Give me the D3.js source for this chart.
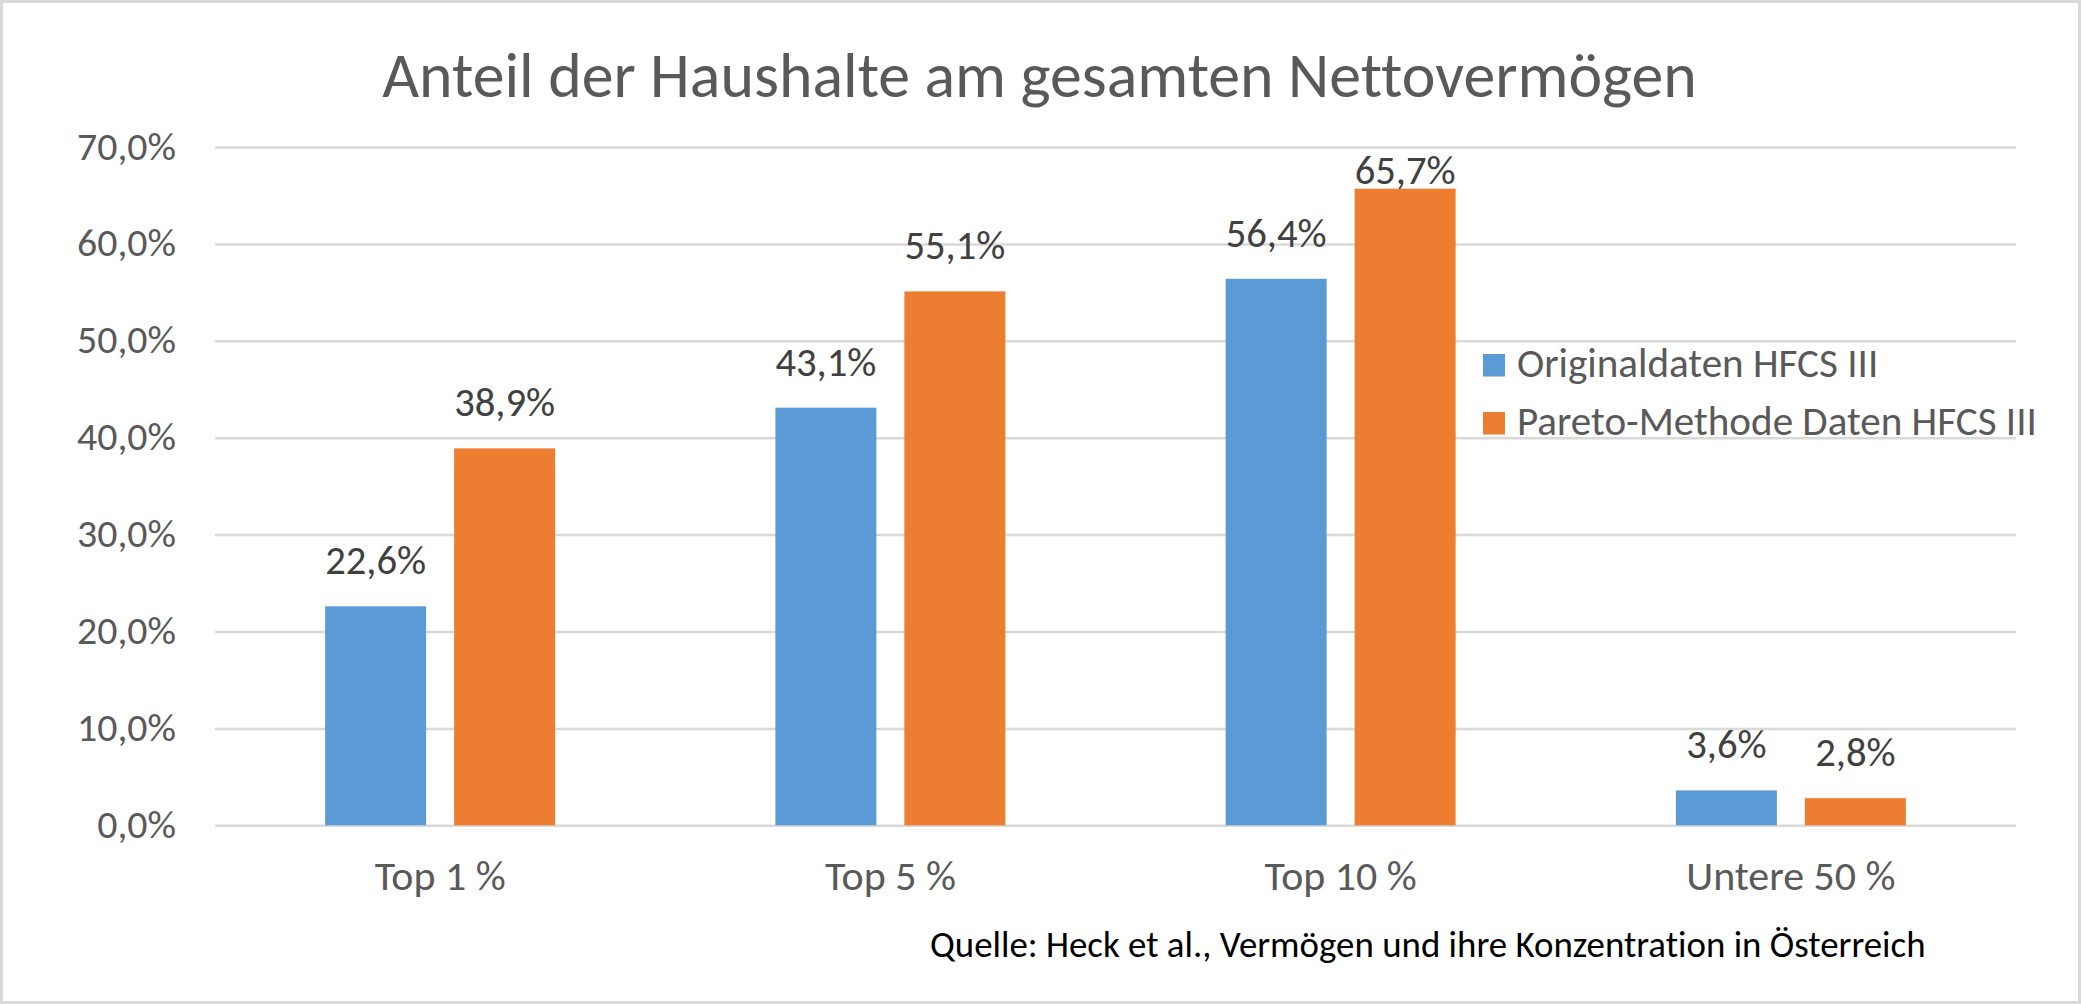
<!DOCTYPE html>
<html><head><meta charset="utf-8">
<script src="https://cdn.jsdelivr.net/npm/d3@7"></script>
<style>
html,body{margin:0;padding:0;background:#fff;}
svg{display:block;}
text{font-variant-ligatures:none;font-feature-settings:"liga" 0, "clig" 0;}
</style></head>
<body>
<svg id="chart" width="2081" height="1004"></svg>
<script>
const titleText = "Anteil der Haushalte am gesamten Nettovermögen";
const sourceText = "Quelle: Heck et al., Vermögen und ihre Konzentration in Österreich";
const categories = ["Top 1 %", "Top 5 %", "Top 10 %", "Untere 50 %"];
const seriesNames = ["Originaldaten HFCS III", "Pareto-Methode Daten HFCS III"];
const originalValues = [22.6, 43.1, 56.4, 3.6];
const paretoValues = [38.9, 55.1, 65.7, 2.8];
const seriesColors = ["#5b9bd5", "#ed7d31"];
const yTicks = [0, 10, 20, 30, 40, 50, 60, 70];

const fmt = v => v.toFixed(1).replace(".", ",") + "%";
const FONT = "Carlito, Lato, 'Open Sans', sans-serif";

const svg = d3.select("#chart");
const W = 2081, H = 1004;

// border
svg.append("rect").attr("x", 1.5).attr("y", 1.5).attr("width", W - 3).attr("height", H - 3)
  .attr("fill", "#fff").attr("stroke", "#d9d9d9").attr("stroke-width", 3);

const plot = {left: 215, right: 2016, top: 147, bottom: 825.3};

const y = d3.scaleLinear().domain([0, 70]).range([plot.bottom, plot.top]);
const x0 = d3.scaleBand().domain(categories).range([plot.left, plot.right]).paddingInner(0).paddingOuter(0);
const groupW = 230;
const x1 = d3.scaleBand().domain(seriesNames)
  .range([x0.bandwidth() / 2 - groupW / 2, x0.bandwidth() / 2 + groupW / 2]).paddingInner(0.217);

function fitSize(sampleText, targetWidth, baseSize) {
  const t = svg.append("text").attr("font-family", FONT).attr("font-size", baseSize).text(sampleText);
  const w = t.node().getComputedTextLength();
  t.remove();
  return baseSize * targetWidth / w;
}

// y axis with gridlines
const tickSize = fitSize("70,0%", 99, 36);
const yAxis = d3.axisLeft(y).tickValues(yTicks).tickFormat(v => fmt(v))
  .tickSize(-(plot.right - plot.left)).tickPadding(plot.left - 176);
const gy = svg.append("g").attr("transform", `translate(${plot.left},0)`).call(yAxis);
gy.select(".domain").remove();
gy.selectAll(".tick line").attr("stroke", "#d9d9d9").attr("stroke-width", 2.5);
gy.selectAll(".tick text").attr("font-family", FONT).attr("font-size", tickSize)
  .attr("fill", "#595959").attr("dy", null).attr("y", 12);

// x axis
const catSize = fitSize("Top 1 %", 131, 34);
const xAxis = d3.axisBottom(x0).tickSize(0).tickPadding(0);
const gx = svg.append("g").attr("transform", `translate(0,${plot.bottom})`).call(xAxis);
gx.select(".domain").remove();
gx.selectAll(".tick text").attr("font-family", FONT).attr("font-size", catSize)
  .attr("fill", "#595959").attr("dy", null).attr("y", 890 - plot.bottom);

// bars
const rows = categories.map((c, i) => ({cat: c, vals: [originalValues[i], paretoValues[i]]}));
const labelSize = fitSize("65,7%", 101, 36);
const groups = svg.append("g").selectAll("g").data(rows).join("g")
  .attr("transform", d => `translate(${x0(d.cat)},0)`);
groups.selectAll("rect").data(d => d.vals.map((v, k) => ({v, s: seriesNames[k], k})))
  .join("rect")
  .attr("x", d => x1(d.s)).attr("width", x1.bandwidth())
  .attr("y", d => y(d.v)).attr("height", d => y(0) - y(d.v))
  .attr("fill", d => seriesColors[d.k]);
groups.selectAll("text").data(d => d.vals.map((v, k) => ({v, s: seriesNames[k], k})))
  .join("text")
  .attr("x", d => x1(d.s) + x1.bandwidth() / 2)
  .attr("y", d => Math.max(y(d.v) - 32, plot.top + 37))
  .attr("text-anchor", "middle")
  .attr("font-family", FONT).attr("font-size", labelSize).attr("fill", "#404040")
  .text(d => fmt(d.v));

// title
const titleSize = fitSize(titleText, 1315, 60);
svg.append("text").attr("x", 1039.5).attr("y", 97).attr("text-anchor", "middle")
  .attr("font-family", FONT).attr("font-size", titleSize).attr("fill", "#595959").text(titleText);

// legend
const legSize = fitSize(seriesNames[1], 520, 34);
const leg = svg.append("g").selectAll("g").data(seriesNames).join("g")
  .attr("transform", (d, i) => `translate(1483,${354 + i * 58})`);
leg.append("rect").attr("width", 22).attr("height", 22.5).attr("fill", (d, i) => seriesColors[i]);
leg.append("text").attr("x", 34).attr("y", 23).attr("font-family", FONT).attr("font-size", legSize)
  .attr("fill", "#595959").text(d => d);

// source
const srcSize = fitSize(sourceText, 996, 34);
svg.append("text").attr("x", 930).attr("y", 957).attr("font-family", FONT).attr("font-size", srcSize)
  .attr("fill", "#000").text(sourceText);
</script>
</body></html>
